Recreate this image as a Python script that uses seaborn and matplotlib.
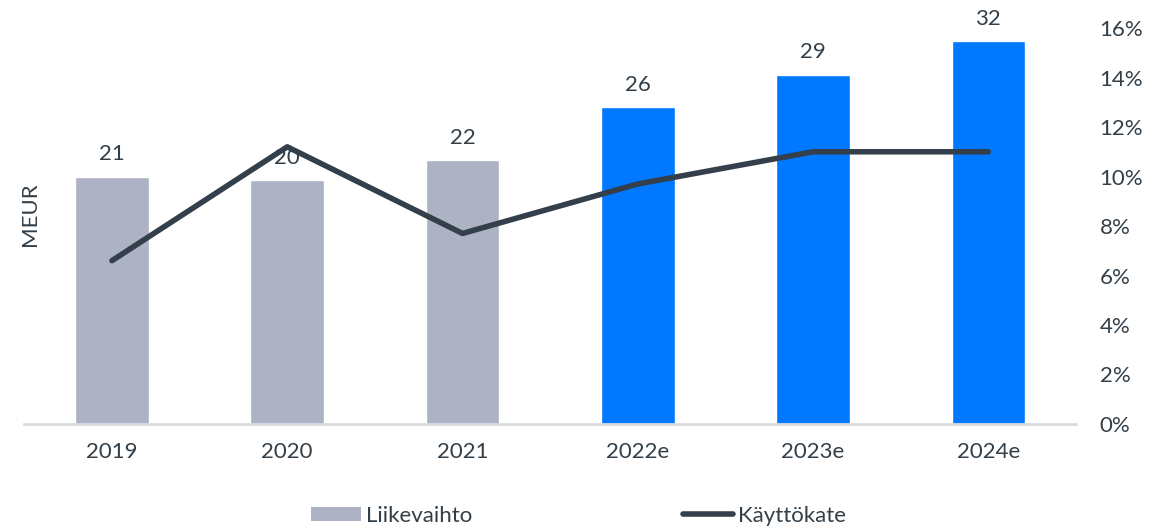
import numpy as np
import pandas as pd
import matplotlib
matplotlib.use('Agg')
import matplotlib.pyplot as plt
from matplotlib.patches import Patch
from matplotlib.lines import Line2D
from matplotlib.ticker import PercentFormatter
import seaborn as sns

# Data
years = ['2019', '2020', '2021', '2022e', '2023e', '2024e']
liikevaihto = [20.6, 20.3, 22.0, 26.4, 29.1, 31.9]
kayttokate = [6.6, 11.2, 7.7, 9.7, 11.0, 11.0]
bar_colors = ['#adb3c4', '#adb3c4', '#adb3c4', '#0078ff', '#0078ff', '#0078ff']

text_col = '#333f48'
line_col = '#333f4a'
fs = 16

sns.set_style('white')
plt.rcParams['font.family'] = ['Lato', 'DejaVu Sans']
plt.rcParams['text.color'] = text_col
plt.rcParams['axes.labelcolor'] = text_col
plt.rcParams['xtick.color'] = text_col
plt.rcParams['ytick.color'] = text_col

df = pd.DataFrame({'year': years, 'liikevaihto': liikevaihto, 'kayttokate': kayttokate})

fig = plt.figure(figsize=(11.57, 5.29), dpi=100)
ax = fig.add_axes([0.021, 0.1985, 0.909, 0.7485])

sns.barplot(data=df, x='year', y='liikevaihto', hue='year', palette=bar_colors,
            width=0.42, legend=False, ax=ax, saturation=1)
for c in ax.containers:
    ax.bar_label(c, labels=[f'{v:.0f}' for v in c.datavalues], padding=9,
                 fontsize=fs, color=text_col)

ax.set_ylim(0, 33)
ax.set_xlim(-0.5, 5.5)
ax.set_yticks([])
ax.set_xlabel('')
ax.set_ylabel('')
ax.tick_params(axis='x', length=0, labelsize=fs, pad=13)
for s in ['top', 'left', 'right']:
    ax.spines[s].set_visible(False)
ax.spines['bottom'].set_color('#d9dde2')
ax.spines['bottom'].set_linewidth(2)

# EBITDA margin on the right axis
ax2 = ax.twinx()
sns.lineplot(data=df, x='year', y='kayttokate', color=line_col, linewidth=4,
             ax=ax2, sort=False, solid_capstyle='round', solid_joinstyle='round')
ax2.set_ylim(0, 16)
ax2.set_yticks(np.arange(0, 17, 2))
ax2.yaxis.set_major_formatter(PercentFormatter(decimals=0))
ax2.tick_params(axis='y', length=0, labelsize=fs, pad=17)
ax2.set_ylabel('')
for s in ['top', 'left', 'right', 'bottom']:
    ax2.spines[s].set_visible(False)

fig.text(0.026, 0.595, 'MEUR', rotation=90, ha='center', va='center', fontsize=fs, color=text_col)

handles = [Patch(facecolor='#adb3c4', edgecolor='none'),
           Line2D([0], [0], color=line_col, linewidth=4, solid_capstyle='round')]
fig.legend(handles, ['Liikevaihto', 'Käyttökate'], loc='center', bbox_to_anchor=(0.5, 0.025),
           ncol=2, frameon=False, fontsize=fs, handlelength=2.25, handleheight=0.55,
           handletextpad=0.22, columnspacing=9.5)

fig.savefig('out.png', dpi=100)
